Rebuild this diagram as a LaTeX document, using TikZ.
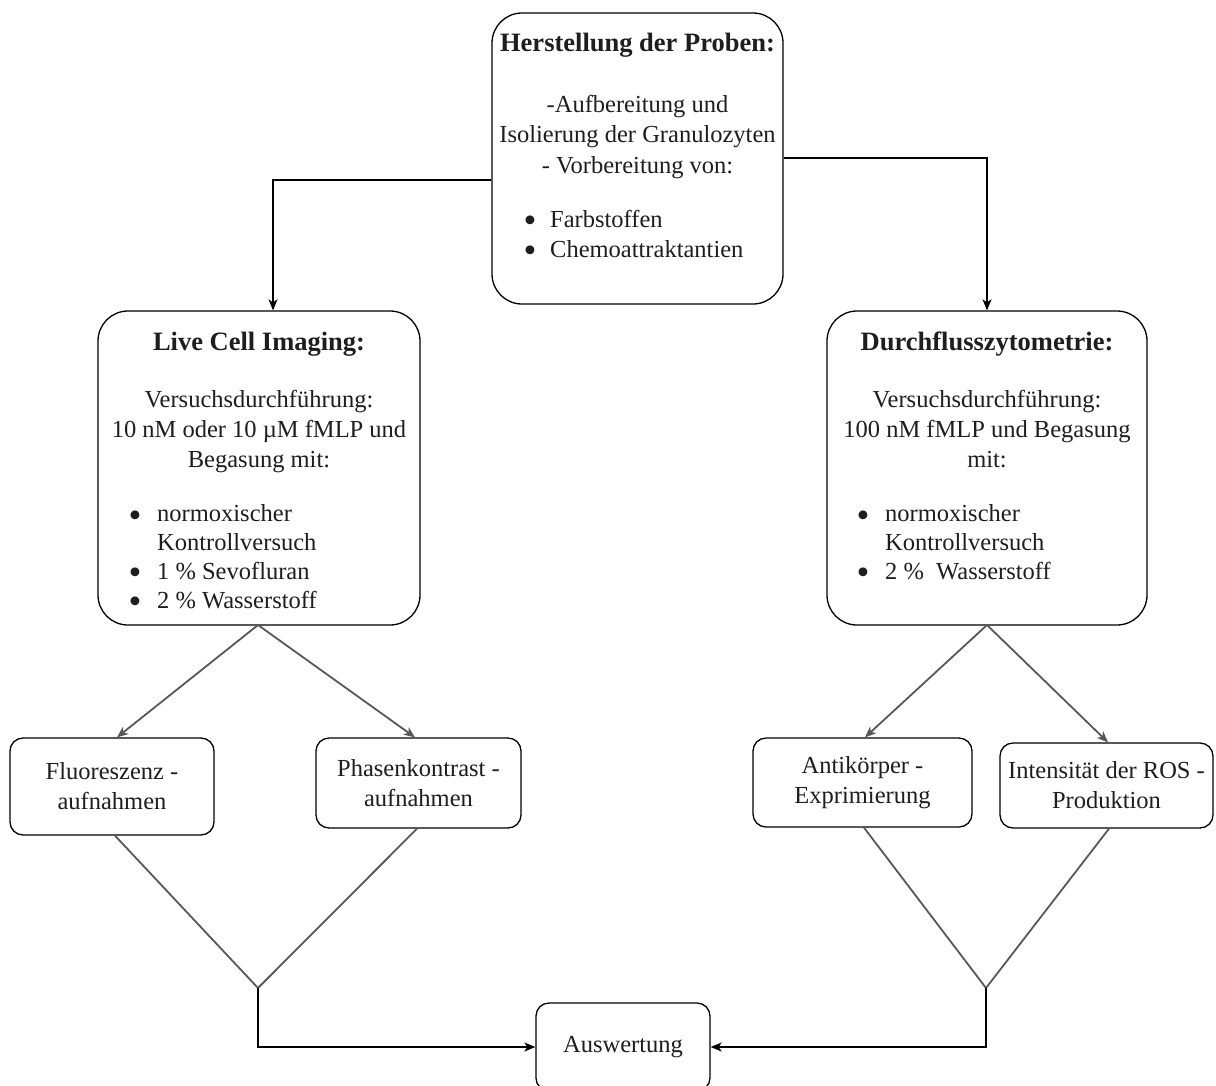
\documentclass[tikz,border=0pt]{standalone}
\usepackage{fontspec}
\setmainfont{Liberation Serif}
\usetikzlibrary{arrows.meta}
\definecolor{diagcol}{RGB}{88,88,88}
\definecolor{txtcol}{RGB}{30,30,30}
\newcommand{\bodyfont}{\fontsize{24.5pt}{30pt}\selectfont}
\newcommand{\listfont}{\fontsize{24.5pt}{28.7pt}\selectfont}
\newcommand{\headfont}{\fontsize{26.5pt}{30pt}\selectfont\bfseries}
\newcommand{\bulletmark}{\smash{\raisebox{-5.5pt}{\scalebox{1.5}{•}}}}
\begin{document}
\begin{tikzpicture}[x=1pt,y=-1pt,
  bigbox/.style={draw=black, line width=1.3pt, rounded corners=30pt, fill=white, inner sep=0pt},
  smallbox/.style={draw=black, line width=1.3pt, rounded corners=13pt, fill=white,
    inner sep=0pt, align=center, font=\bodyfont, text=txtcol},
  % multi-line text nodes: the base anchor sits on the last line
  para/.style={anchor=base, inner sep=0pt, align=center, font=\bodyfont, text=txtcol},
  listtxt/.style={anchor=base west, inner sep=0pt, align=left, font=\listfont, text=txtcol},
  bullets/.style={anchor=base, inner sep=0pt, align=center, font=\listfont, text=txtcol},
  btxt/.style={anchor=base, inner sep=0pt, font=\headfont, text=txtcol},
  conn/.style={draw=black, line width=1.3pt, -{Stealth[length=11pt,width=9pt,inset=3pt]}},
  diagconn/.style={draw=diagcol, line width=1.8pt, -{Stealth[length=11pt,width=9pt,inset=3pt]}},
  joinline/.style={draw=diagcol, line width=1.8pt, line join=miter},
]
\fill[white] (0,0) rectangle (1216,1085);
\useasboundingbox (0,0) rectangle (1216,1085);

% main boxes
\node[bigbox, minimum width=291pt, minimum height=291pt] (prep) at (637.5,158.5) {};
\node[bigbox, minimum width=322pt, minimum height=314pt] (live) at (259,468) {};
\node[bigbox, minimum width=320pt, minimum height=314pt] (flow) at (987,468) {};

% result boxes
\node[smallbox, minimum width=204pt, minimum height=97pt] (fluo) at (112,786.5) {Fluoreszenz -\\aufnahmen};
\node[smallbox, minimum width=205pt, minimum height=90pt] (phase) at (418.5,783) {Phasenkontrast -\\aufnahmen};
\node[smallbox, minimum width=219pt, minimum height=89pt] (anti) at (862.5,782.5) {Antikörper -\\Exprimierung};
\node[smallbox, minimum width=213pt, minimum height=85pt] (ros) at (1106.5,785.5) {Intensität der ROS -\\Produktion};
\node[smallbox, minimum width=174pt, minimum height=88pt] (eval) at (623,1047) {Auswertung};

% text of the preparation box
\node[btxt] (prep-head) at (637.5,51) {Herstellung der Proben:};
\node[para, font=\fontsize{24.5pt}{30.5pt}\selectfont] (prep-para) at (637.5,173)
  {-Aufbereitung und\\Isolierung der Granulozyten\\- Vorbereitung von:};
\node[bullets, font=\fontsize{24.5pt}{30pt}\selectfont] (prep-bul) at (530,257)
  {\bulletmark\\\bulletmark};
\node[listtxt, font=\fontsize{24.5pt}{30pt}\selectfont] (prep-list) at (550,257)
  {Farbstoffen\\Chemoattraktantien};

% text of the live cell imaging box
\node[btxt] (live-head) at (259,350) {Live Cell Imaging:};
\node[para] (live-para) at (259,467)
  {Versuchsdurchführung:\\10 nM oder 10 µM fMLP und\\Begasung mit:};
\node[bullets] (live-bul) at (135,608)
  {\bulletmark\\\mbox{}\\\bulletmark\\\bulletmark};
\node[listtxt] (live-list) at (157,608)
  {normoxischer\\Kontrollversuch\\1 \% Sevofluran\\2 \% Wasserstoff};

% text of the flow cytometry box
\node[btxt] (flow-head) at (987,350) {Durchflusszytometrie:};
\node[para] (flow-para) at (987,467)
  {Versuchsdurchführung:\\100 nM fMLP und Begasung\\mit:};
\node[bullets] (flow-bul) at (863,579)
  {\bulletmark\\\mbox{}\\\bulletmark};
\node[listtxt] (flow-list) at (885,579)
  {normoxischer\\Kontrollversuch\\2 \%\ \ Wasserstoff};

% bends and junctions
\coordinate (lbend) at (273,180);
\coordinate (rbend) at (987,158);
\coordinate (lsplit) at (258,625);
\coordinate (rsplit) at (987,625);
\coordinate (ljoin) at (258,988);
\coordinate (rjoin) at (986,988);

% from preparation to both methods
\draw[conn] (prep.west |- lbend) -- (lbend) -- (live.north -| lbend);
\draw[conn] (prep.east |- rbend) -- (rbend) -- (flow.north);

% method to recordings
\draw[diagconn] (lsplit) -- (fluo.north -| 117,0);
\draw[diagconn] (lsplit) -- (phase.north -| 415,0);
\draw[diagconn] (rsplit) -- (anti.north -| 865,0);
\draw[diagconn] (rsplit) -- (ros.north -| 1108,0);

% recordings merge into evaluation
\draw[joinline] (fluo.south -| 115,0) -- (ljoin) -- (phase.south -| 417,0);
\draw[joinline] (anti.south -| 864,0) -- (rjoin) -- (ros.south -| 1109,0);
\draw[conn] (ljoin) -- (ljoin |- eval.west) -- (eval.west);
\draw[conn] (rjoin) -- (rjoin |- eval.east) -- (eval.east);
\end{tikzpicture}
\end{document}
